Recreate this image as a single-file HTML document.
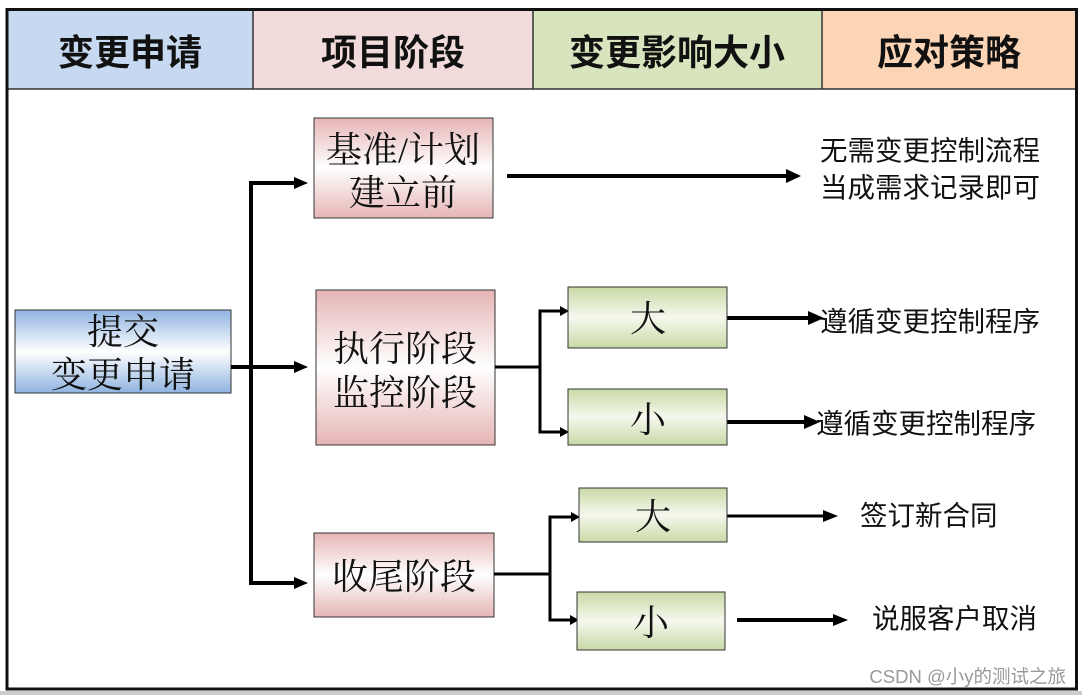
<!DOCTYPE html>
<html><head><meta charset="utf-8"><style>
html,body{margin:0;padding:0;background:#fff;}
svg{display:block}
.h{font-family:"Liberation Sans","Noto Sans CJK SC",sans-serif;font-weight:bold;font-size:36px;fill:#111;text-anchor:middle}
.b{font-family:"Liberation Serif","Noto Serif CJK SC",serif;font-size:36px;fill:#111;text-anchor:middle}
.r{font-family:"Liberation Sans","Noto Sans CJK SC",sans-serif;font-size:27.5px;fill:#111}
</style></head><body>
<svg width="1082" height="695" viewBox="0 0 1082 695" xmlns="http://www.w3.org/2000/svg">
<defs>
<linearGradient id="pk" x1="0" y1="0" x2="0" y2="1"><stop offset="0" stop-color="#e6b5b5"/><stop offset="0.5" stop-color="#fff"/><stop offset="1" stop-color="#e6b5b5"/></linearGradient>
<linearGradient id="bl" x1="0" y1="0" x2="0" y2="1"><stop offset="0" stop-color="#8fb3e0"/><stop offset="0.5" stop-color="#fff"/><stop offset="1" stop-color="#8fb3e0"/></linearGradient>
<linearGradient id="gr" x1="0" y1="0" x2="0" y2="1"><stop offset="0" stop-color="#c9d9a6"/><stop offset="0.5" stop-color="#f5f8ee"/><stop offset="1" stop-color="#c9d9a6"/></linearGradient>
</defs>
<rect x="0" y="691" width="1082" height="4" fill="#ccc"/>
<rect x="7" y="10" width="246" height="79" fill="#c6d9f0"/>
<rect x="253" y="10" width="280" height="79" fill="#f2dcdb"/>
<rect x="533" y="10" width="289" height="79" fill="#d7e4bd"/>
<rect x="822" y="10" width="254" height="79" fill="#fbd5b5"/>
<g stroke="#333" stroke-width="1.5"><line x1="253" y1="10" x2="253" y2="89"/><line x1="533" y1="10" x2="533" y2="89"/><line x1="822" y1="10" x2="822" y2="89"/><line x1="7" y1="89" x2="1076" y2="89"/></g>
<rect x="7" y="9.5" width="1069.5" height="679.5" fill="none" stroke="#111" stroke-width="3"/>
<text class="h" x="130" y="65">变更申请</text>
<text class="h" x="393" y="65">项目阶段</text>
<text class="h" x="677" y="65">变更影响大小</text>
<text class="h" x="949" y="65">应对策略</text>

<rect x="15" y="310" width="216" height="83" fill="url(#bl)" stroke="#333" stroke-width="1"/>
<text class="b" x="123" y="344">提交</text>
<text class="b" x="123" y="387">变更申请</text>

<g stroke="#000" fill="none" stroke-width="4">
<line x1="231" y1="367" x2="296" y2="367"/>
<polyline points="296,183 251,183 251,583 296,583"/>
</g>
<g fill="#000">
<path d="M294,177 L308,183 L294,189z"/><path d="M294,361 L308,367 L294,373z"/><path d="M294,577 L308,583 L294,589z"/>
</g>

<rect x="314" y="118" width="179" height="100" fill="url(#pk)" stroke="#333"/>
<text class="b" x="403" y="162">基准/计划</text>
<text class="b" x="403" y="205">建立前</text>
<rect x="316" y="290" width="179" height="155" fill="url(#pk)" stroke="#333"/>
<text class="b" x="405" y="361">执行阶段</text>
<text class="b" x="405" y="405">监控阶段</text>
<rect x="314" y="533" width="180" height="84" fill="url(#pk)" stroke="#333"/>
<text class="b" x="404" y="589">收尾阶段</text>

<g stroke="#000" fill="none" stroke-width="3">
<line x1="507" y1="176" x2="788" y2="176" stroke-width="4"/>
<line x1="495" y1="367" x2="540" y2="367"/>
<polyline points="562,311 540,311 540,432 562,432"/>
<line x1="494" y1="574" x2="550" y2="574"/>
<polyline points="573,517 550,517 550,620 572,620"/>
<line x1="727" y1="318" x2="810" y2="318" stroke-width="4"/>
<line x1="727" y1="422" x2="806" y2="422" stroke-width="4"/>
<line x1="727" y1="516" x2="825" y2="516"/>
<line x1="737" y1="620" x2="835" y2="620" stroke-width="4"/>
</g>
<g fill="#000">
<path d="M786,169 L801,176 L786,183z"/>
<path d="M560,306 L569,311 L560,316z"/><path d="M560,427 L569,432 L560,437z"/>
<path d="M571,512 L580,517 L571,522z"/><path d="M570,615 L579,620 L570,625z"/>
<path d="M808,311 L824,318 L808,325z"/><path d="M804,415 L820,422 L804,429z"/>
<path d="M823,510 L838,516 L823,522z"/><path d="M833,614 L848,620 L833,626z"/>
</g>

<rect x="568" y="287" width="159" height="61" fill="url(#gr)" stroke="#333"/>
<text class="b" x="648" y="331">大</text>
<rect x="568" y="389" width="159" height="56" fill="url(#gr)" stroke="#333"/>
<text class="b" x="648" y="432">小</text>
<rect x="579" y="488" width="148" height="54" fill="url(#gr)" stroke="#333"/>
<text class="b" x="653" y="529">大</text>
<rect x="577" y="592" width="148" height="58" fill="url(#gr)" stroke="#333"/>
<text class="b" x="651" y="635">小</text>

<text class="r" x="820" y="160">无需变更控制流程</text>
<text class="r" x="820" y="197">当成需求记录即可</text>
<text class="r" x="820" y="331">遵循变更控制程序</text>
<text class="r" x="816" y="433">遵循变更控制程序</text>
<text class="r" x="860" y="525">签订新合同</text>
<text class="r" x="872" y="628">说服客户取消</text>
<text x="1066" y="683" text-anchor="end" style="font-family:'Liberation Sans','Noto Sans CJK SC',sans-serif;font-size:18.5px;fill:#999">CSDN @小y的测试之旅</text>
</svg>
</body></html>
